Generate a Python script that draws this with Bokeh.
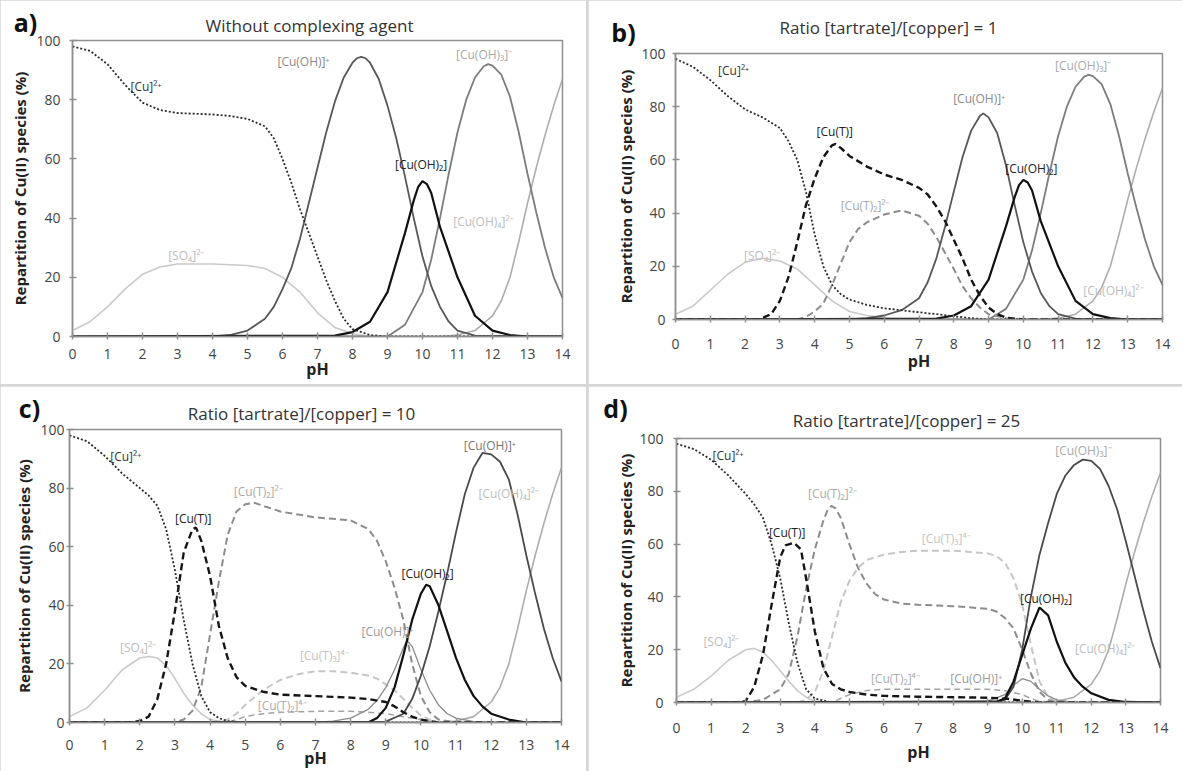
from bokeh.plotting import figure
from bokeh.models import Label, Range1d, FixedTicker
from bokeh.layouts import row, column
from bokeh.embed import file_html
from bokeh.resources import INLINE

FONT = "Open Sans"
PH_TICKS = list(range(0, 15))
PCT_TICKS = [0, 20, 40, 60, 80, 100]

TITLES = ["Without complexing agent", "Ratio [tartrate]/[copper] = 1",
          "Ratio [tartrate]/[copper] = 10", "Ratio [tartrate]/[copper] = 25"]
LETTERS = ["a)", "b)", "c)", "d)"]
X_LABEL = "pH"
Y_LABEL = "Repartition of Cu(II) species (%)"

# ---------------- panel a : without complexing agent ----------------
A_CU2_PH = [0, 0.5, 1, 1.5, 2, 2.5, 3, 4, 4.5, 5, 5.5, 5.75, 6, 6.25, 6.5, 6.75, 7, 7.25, 7.5, 7.75, 8, 8.5, 9, 14]
A_CU2 = [98, 96.5, 92, 85, 79, 76.5, 75.5, 75, 74.5, 73.5, 71, 67, 60, 52, 43, 35, 27, 19, 12, 6, 2.5, 0.5, 0, 0]
A_SO4_PH = [0, 0.5, 1, 1.5, 2, 2.5, 3, 4, 5, 5.5, 6, 6.5, 7, 7.5, 8, 8.5, 14]
A_SO4 = [2, 5, 10, 16, 21, 23.5, 24.5, 24.5, 24, 23, 20, 15, 8, 3, 1, 0, 0]
A_CUOH_PH = [0, 4, 4.5, 5, 5.5, 5.75, 6, 6.25, 6.5, 6.75, 7, 7.25, 7.5, 7.75, 8, 8.125, 8.25, 8.375, 8.5, 8.75,
             9, 9.25, 9.5, 9.75, 10, 10.25, 10.5, 10.75, 11, 11.5, 14]
A_CUOH = [0, 0, 0.5, 2, 6, 10, 16, 23, 33, 45, 57, 69, 79.5, 87.5, 92.5, 94, 94.5, 94, 92.5, 87,
          78, 67, 54, 40, 27, 17, 10, 5, 2, 0.3, 0]
# shared by panels a and b
CUOH2_PH = [0, 7.5, 8, 8.5, 9, 9.5, 9.75, 9.875, 10, 10.125, 10.25, 10.5, 11, 11.5, 12, 12.5, 13, 14]
CUOH2 = [0, 0.3, 1.5, 5, 15, 35, 46, 50.5, 52.5, 51.5, 48.5, 37, 20, 7, 2, 0.5, 0, 0]
CUOH3_PH = [0, 9, 9.5, 10, 10.25, 10.5, 10.75, 11, 11.25, 11.5, 11.75, 11.875, 12, 12.25, 12.5, 12.75, 13,
            13.25, 13.5, 13.75, 14]
CUOH3 = [0, 0, 4, 15, 26, 40, 55, 69, 80, 87.5, 91.3, 92, 91.5, 88.5, 81, 69, 55, 42, 30, 20, 13]
# shared by all panels
CUOH4_PH = [0, 10.5, 11, 11.5, 12, 12.25, 12.5, 12.75, 13, 13.25, 13.5, 13.75, 14]
CUOH4 = [0, 0, 0.5, 2, 7, 12, 20, 32, 45, 57, 68, 78, 87]

# ---------------- panel b : ratio 1 ----------------
B_CU2_PH = [0, 0.5, 1, 1.5, 2, 2.5, 3, 3.25, 3.5, 3.75, 4, 4.25, 4.5, 4.75, 5, 5.5, 6, 6.5, 7, 7.5, 8, 8.5, 9, 14]
B_CU2 = [98, 95, 90, 84, 79, 76, 72, 67, 60, 48, 32, 20, 13, 9.5, 7.5, 5.5, 4.2, 3.5, 2.7, 2, 1.2, 0.5, 0, 0]
B_SO4_PH = [0, 0.5, 1, 1.5, 2, 2.5, 3, 3.5, 4, 4.5, 5, 5.5, 6, 6.5, 14]
B_SO4 = [2, 5, 11, 17, 21.5, 23, 22, 19, 13, 7, 3, 1.5, 0.5, 0, 0]
B_CUT_PH = [0, 2.4, 2.75, 3, 3.25, 3.5, 3.75, 4, 4.25, 4.5, 4.6, 4.75, 5, 5.5, 6, 6.5, 7, 7.25, 7.5, 7.75,
            8, 8.25, 8.5, 8.75, 9, 9.25, 9.5, 10, 14]
B_CUT = [0, 0, 2, 7, 16, 29, 43, 53, 61, 65.5, 66, 64.5, 61.5, 57.5, 54.5, 52.5, 49.5, 47, 42.5, 37,
         30, 23, 15, 9, 4.5, 2, 0.7, 0, 0]
B_CUT2_PH = [0, 3.5, 3.75, 4, 4.25, 4.5, 4.75, 5, 5.25, 5.5, 6, 6.5, 7, 7.25, 7.5, 7.75, 8, 8.25, 8.5, 8.75, 9, 9.5, 10, 14]
B_CUT2 = [0, 0, 1, 3, 6, 13, 21, 29, 34, 36.5, 39.5, 41, 39, 36, 31, 25, 19, 12.5, 8, 4.5, 2, 0.5, 0, 0]
B_CUOH_PH = [0, 5, 5.5, 6, 6.5, 7, 7.25, 7.5, 7.75, 8, 8.25, 8.5, 8.75, 8.85, 9, 9.25, 9.5, 9.75, 10,
             10.25, 10.5, 10.75, 11, 11.5, 12, 14]
B_CUOH = [0, 0, 0.5, 1.5, 3.5, 8, 14, 23, 35, 48, 61, 71, 76.5, 77.5, 76, 70, 58, 43, 29,
          18, 10, 5, 2, 0.3, 0, 0]

# ---------------- panel c : ratio 10 ----------------
C_CU2_PH = [0, 0.5, 1, 1.5, 2, 2.25, 2.5, 2.75, 3, 3.25, 3.5, 3.75, 4, 4.25, 4.5, 5, 14]
C_CU2 = [98, 96, 91, 85, 80, 77.5, 74, 66, 52, 35, 20, 9, 3.5, 1.5, 0.5, 0, 0]
C_SO4_PH = [0, 0.5, 1, 1.5, 2, 2.25, 2.5, 2.75, 3, 3.25, 3.5, 3.75, 4, 4.5, 14]
C_SO4 = [2, 5, 11, 18, 22, 22.5, 22, 19.5, 15, 10, 6, 3, 1, 0, 0]
C_CUT_PH = [0, 1.75, 2, 2.25, 2.5, 2.75, 3, 3.25, 3.5, 3.6, 3.75, 4, 4.25, 4.5, 4.75, 5, 5.5, 6, 7, 8,
            8.5, 9, 9.25, 9.5, 9.75, 10, 10.5, 14]
C_CUT = [0, 0, 0.5, 2, 8, 20, 38, 58, 66, 66.5, 62, 50, 33, 22, 15.5, 12.5, 10.5, 9.5, 9, 8.5,
         8, 7, 5.5, 3.5, 2, 1, 0, 0]
C_CUT2_PH = [0, 3, 3.25, 3.5, 3.75, 4, 4.25, 4.5, 4.75, 5, 5.25, 5.5, 6, 6.5, 7, 7.5, 8, 8.5, 8.75, 9,
             9.25, 9.5, 9.75, 10, 10.25, 10.5, 11, 14]
C_CUT2 = [0, 0, 1, 4, 12, 30, 48, 64, 72, 74.5, 75, 74, 72, 71, 70, 69.5, 69, 66, 62, 55,
          46, 35, 20, 9, 3.5, 1, 0, 0]
C_CUT3_PH = [0, 4.25, 4.5, 4.75, 5, 5.5, 6, 6.5, 7, 7.5, 8, 8.5, 8.75, 9, 9.25, 9.5, 9.75, 10, 10.25, 10.5, 14]
C_CUT3 = [0, 0, 1, 3, 6, 11, 14.5, 16.5, 17.5, 17.5, 17, 16, 15, 13, 11, 8, 5, 2.5, 1, 0, 0]
C_CUT2B_PH = [0, 4.5, 4.75, 5, 5.5, 6, 7, 8, 8.5, 9, 9.5, 10, 10.5, 14]
C_CUT2B = [0, 0, 1, 2, 3, 3.5, 3.8, 3.8, 3.5, 3, 2, 1, 0, 0]
C_CUOH_PH = [0, 7, 7.5, 8, 8.5, 8.75, 9, 9.25, 9.5, 9.6, 9.75, 10, 10.25, 10.5, 10.75, 11, 11.5, 12, 14]
C_CUOH = [0, 0, 0.5, 1.5, 4.5, 7.5, 12, 18, 25.5, 28, 26, 18, 11, 6, 3, 1.5, 0.3, 0, 0]
C_CUOH2_PH = [0, 8.5, 8.75, 9, 9.25, 9.5, 9.75, 10, 10.15, 10.25, 10.5, 10.75, 11, 11.25, 11.5, 11.75, 12, 12.5, 13, 14]
C_CUOH2 = [0, 0, 1.5, 5, 12, 23, 35, 44, 47, 46.5, 40, 31, 22, 14.5, 9, 5.5, 3, 1, 0, 0]
C_CUOH3_PH = [0, 9, 9.5, 9.75, 10, 10.25, 10.5, 10.75, 11, 11.25, 11.5, 11.75, 12, 12.25, 12.5, 12.75,
              13, 13.25, 13.5, 13.75, 14]
C_CUOH3 = [0, 0.3, 3, 8, 16, 26, 38, 51, 65, 78, 87, 92, 91.5, 89, 83, 71, 57, 44, 32, 22, 14]

# ---------------- panel d : ratio 25 ----------------
D_CU2_PH = [0, 0.5, 1, 1.5, 2, 2.25, 2.5, 2.75, 3, 3.25, 3.5, 3.75, 4, 4.5, 14]
D_CU2 = [98, 96, 92, 86, 79, 75, 70, 60, 47, 30, 15, 5, 1.5, 0, 0]
D_SO4_PH = [0, 0.5, 1, 1.5, 2, 2.25, 2.5, 2.75, 3, 3.25, 3.5, 3.75, 4, 4.5, 14]
D_SO4 = [2, 5, 10, 16, 20, 20.5, 19, 16, 12, 8, 4.5, 2, 0.5, 0, 0]
D_CUT_PH = [0, 1.75, 2, 2.25, 2.5, 2.75, 3, 3.15, 3.4, 3.6, 3.75, 4, 4.25, 4.5, 4.75, 5, 5.5, 6, 7, 8,
            9, 9.5, 10, 10.5, 14]
D_CUT = [0, 0, 0.5, 6, 18, 37, 55, 59.5, 60.5, 58, 47, 27, 13, 7, 5, 4, 3, 2.5, 2.2, 2,
         1.8, 1.5, 0.7, 0, 0]
D_CUT2_PH = [0, 2, 2.5, 2.75, 3, 3.25, 3.5, 3.75, 4, 4.25, 4.375, 4.48, 4.6, 4.75, 5, 5.25, 5.5, 5.75, 6, 6.5,
             7, 8, 9, 9.25, 9.5, 9.75, 10, 10.25, 10.5, 10.75, 11, 14]
D_CUT2 = [0, 0, 1, 3, 5, 11, 25, 43, 58, 69, 73, 74.5, 73.5, 70, 60, 51, 45, 41, 39, 37.5,
          37, 36.5, 35.5, 34.5, 32, 28, 20, 11, 4, 1, 0, 0]
D_CUT3_PH = [0, 3.5, 3.75, 4, 4.25, 4.5, 4.75, 5, 5.25, 5.5, 6, 6.5, 7, 8, 9, 9.25, 9.5, 9.75, 10,
             10.25, 10.5, 10.75, 11, 14]
D_CUT3 = [0, 0, 1, 4, 12, 25, 38, 46, 51, 54, 56, 57, 57.5, 57.5, 56.5, 55.5, 53, 47, 37,
          22, 8, 2, 0, 0]
D_CUT2B_PH = [0, 4.5, 4.75, 5, 5.5, 6, 7, 8, 9, 9.5, 10, 10.25, 10.5, 11, 14]
D_CUT2B = [0, 0, 1.5, 3, 4.5, 5, 5, 5, 5, 4.5, 3, 1.5, 0.5, 0, 0]
D_CUOH_PH = [0, 8.5, 9, 9.5, 9.75, 10, 10.25, 10.5, 10.75, 11, 11.5, 14]
D_CUOH = [0, 0, 0.5, 3, 6.5, 9, 8, 5, 2.5, 1, 0, 0]
D_CUOH2_PH = [0, 9.25, 9.5, 9.75, 10, 10.25, 10.5, 10.75, 11, 11.25, 11.5, 11.75, 12, 12.5, 13, 14]
D_CUOH2 = [0, 0.3, 1.5, 8, 18, 28, 36, 33, 23, 15, 9.5, 6, 3.5, 1, 0.2, 0]
D_CUOH3_PH = [0, 9.25, 9.5, 9.75, 10, 10.25, 10.5, 10.75, 11, 11.25, 11.5, 11.75, 12, 12.25, 12.5, 12.75,
              13, 13.25, 13.5, 13.75, 14]
D_CUOH3 = [0, 0, 1, 6, 20, 40, 56, 68, 79, 86, 90, 92, 91.5, 88.5, 82, 73, 61, 48, 35, 23, 13]

# ---------------- curve labels (text, pH, %, style key) ----------------
A_LABELS = [("[Cu]²⁺", 2.1, 84.6, "cu2"), ("[Cu(OH)]⁺", 6.6, 93, "cuoh"),
            ("[Cu(OH)₃]⁻", 11.76, 95.3, "cuoh3"), ("[Cu(OH)₂]", 9.96, 58.2, "cuoh2"),
            ("[Cu(OH)₄]²⁻", 11.74, 39, "cuoh4"), ("[SO₄]²⁻", 3.25, 27.3, "so4")]
B_LABELS = [("[Cu]²⁺", 1.67, 93.5, "cu2"), ("[Cu(T)]", 4.58, 70.5, "cut"),
            ("[Cu(OH)]⁺", 8.73, 83, "cuoh"), ("[Cu(OH)₃]⁻", 11.72, 95.6, "cuoh3"),
            ("[Cu(OH)₂]", 10.23, 56.7, "cuoh2"), ("[Cu(T)₂]²⁻", 5.45, 42.9, "cut2"),
            ("[SO₄]²⁻", 2.49, 24, "so4"), ("[Cu(OH)₄]²⁻", 12.59, 10.9, "cuoh4")]
C_LABELS = [("[Cu]²⁺", 1.6, 90.7, "cu2"), ("[Cu(T)]", 3.52, 69.7, "cut"),
            ("[Cu(T)₂]²⁻", 5.37, 78.8, "cut2"), ("[Cu(OH)]⁺", 11.96, 94.7, "cuoh_dark"),
            ("[Cu(OH)₄]²⁻", 12.5, 78.2, "cuoh4"), ("[Cu(OH)₂]", 10.19, 51, "cuoh2"),
            ("[Cu(OH)]⁺", 9.05, 31.2, "cuoh_small"), ("[SO₄]²⁻", 1.95, 25.5, "so4"),
            ("[Cu(T)₃]⁴⁻", 7.25, 22.7, "cut3"), ("[Cu(T)₂]⁴⁻", 6.05, 5.7, "cut2b")]
D_LABELS = [("[Cu]²⁺", 1.49, 93.5, "cu2"), ("[Cu(T)]", 3.2, 64.5, "cut"),
            ("[Cu(T)₂]²⁻", 4.51, 79, "cut2"), ("[Cu(T)₃]⁴⁻", 7.8, 62, "cut3"),
            ("[Cu(OH)₃]⁻", 11.77, 95.3, "cuoh3"), ("[Cu(OH)₂]", 10.69, 39.3, "cuoh2"),
            ("[Cu(OH)₄]²⁻", 12.4, 20.4, "cuoh4"), ("[SO₄]²⁻", 1.3, 23, "so4"),
            ("[Cu(T)₂]⁴⁻", 6.33, 9, "cut2b"), ("[Cu(OH)]⁺", 8.67, 9, "cuoh_small")]

# ---------------- styles ----------------
LINE = {
    "cu2": ("#2b2b2b", 1.8, "2 2"),
    "so4": ("#cacaca", 1.6, "solid"),
    "cuoh": ("#575757", 1.8, "solid"),
    "cuoh_small": ("#8c8c8c", 1.3, "solid"),
    "cuoh2": ("#111111", 2.2, "solid"),
    "cuoh3": ("#7c7c7c", 1.8, "solid"),
    "cuoh3_dark": ("#4a4a4a", 1.8, "solid"),
    "cuoh4": ("#adadad", 1.6, "solid"),
    "cut": ("#151515", 2.4, "7 4"),
    "cut2": ("#8c8c8c", 2.0, "7 4"),
    "cut3": ("#c6c6c6", 2.0, "7 4"),
    "cut2b": ("#a3a3a3", 1.5, "6 4"),
}
LABEL_COLOR = {
    "cu2": "#333333", "so4": "#bdbdbd", "cuoh": "#8a8a8a", "cuoh_small": "#9a9a9a",
    "cuoh_dark": "#777777", "cuoh2": "#222222", "cuoh3": "#aaaaaa", "cuoh4": "#bdbdbd",
    "cut": "#222222", "cut2": "#aaaaaa", "cut3": "#c4c4c4", "cut2b": "#adadad",
}

PANELS = [
    dict(w=586, h=384, left=72, right=24, top=40, bottom=48, tick_std=9, xlab_std=-4, ytick_std=9, ylab_std=3,
         title_xy=(309, 25), letter_xy=(25, 21), letter_side="right",
         curves=[("so4", A_SO4_PH, A_SO4), ("cuoh4", CUOH4_PH, CUOH4), ("cuoh3", CUOH3_PH, CUOH3),
                 ("cuoh", A_CUOH_PH, A_CUOH), ("cuoh2", CUOH2_PH, CUOH2), ("cu2", A_CU2_PH, A_CU2)],
         labels=A_LABELS),
    dict(w=594, h=384, left=87, right=20, top=53, bottom=65, tick_std=16, xlab_std=-2, ytick_std=7, ylab_std=2,
         title_xy=(300, 27), letter_xy=(35, 31), letter_side="left",
         curves=[("so4", B_SO4_PH, B_SO4), ("cuoh4", CUOH4_PH, CUOH4), ("cuoh3", CUOH3_PH, CUOH3),
                 ("cut2", B_CUT2_PH, B_CUT2), ("cuoh", B_CUOH_PH, B_CUOH), ("cuoh2", CUOH2_PH, CUOH2),
                 ("cut", B_CUT_PH, B_CUT), ("cu2", B_CU2_PH, B_CU2)],
         labels=B_LABELS),
    dict(w=586, h=385, left=69, right=25, top=43, bottom=48, tick_std=14, xlab_std=-6, ytick_std=2, ylab_std=3,
         title_xy=(301, 27), letter_xy=(29, 21), letter_side="right",
         curves=[("so4", C_SO4_PH, C_SO4), ("cuoh4", CUOH4_PH, CUOH4), ("cut3", C_CUT3_PH, C_CUT3),
                 ("cut2b", C_CUT2B_PH, C_CUT2B), ("cuoh_small", C_CUOH_PH, C_CUOH),
                 ("cut2", C_CUT2_PH, C_CUT2), ("cuoh3_dark", C_CUOH3_PH, C_CUOH3),
                 ("cuoh2", C_CUOH2_PH, C_CUOH2), ("cut", C_CUT_PH, C_CUT), ("cu2", C_CU2_PH, C_CU2)],
         labels=C_LABELS),
    dict(w=594, h=385, left=88, right=22, top=52, bottom=69, tick_std=17, xlab_std=5, ytick_std=10, ylab_std=0,
         title_xy=(318, 34), letter_xy=(27, 21), letter_side="left",
         curves=[("so4", D_SO4_PH, D_SO4), ("cuoh4", CUOH4_PH, CUOH4), ("cut3", D_CUT3_PH, D_CUT3),
                 ("cut2b", D_CUT2B_PH, D_CUT2B), ("cuoh_small", D_CUOH_PH, D_CUOH),
                 ("cut2", D_CUT2_PH, D_CUT2), ("cuoh3_dark", D_CUOH3_PH, D_CUOH3),
                 ("cuoh2", D_CUOH2_PH, D_CUOH2), ("cut", D_CUT_PH, D_CUT), ("cu2", D_CU2_PH, D_CU2)],
         labels=D_LABELS),
]


def to_data(g, cx, cy):
    fw = g["w"] - g["left"] - g["right"]
    fh = g["h"] - g["top"] - g["bottom"]
    x = (cx - g["left"]) / fw * 14.0
    y = (g["h"] - g["bottom"] - cy) / fh * 100.0
    return x, y


def make_panel(i, g):
    p = figure(width=g["w"], height=g["h"], x_range=Range1d(0, 14), y_range=Range1d(0, 100),
               output_backend="svg", toolbar_location=None,
               min_border_left=g["left"], min_border_right=g["right"],
               min_border_top=g["top"], min_border_bottom=g["bottom"])
    p.xgrid.visible = False
    p.ygrid.visible = False
    p.background_fill_color = "white"
    p.border_fill_color = "white"
    p.outline_line_color = "#8f8f8f"
    p.outline_line_width = 1.5

    p.xaxis.ticker = FixedTicker(ticks=PH_TICKS)
    p.yaxis.ticker = FixedTicker(ticks=PCT_TICKS)
    for ax in (p.xaxis[0], p.yaxis[0]):
        ax.axis_line_color = "#8f8f8f"
        ax.axis_line_width = 1.5
        ax.major_tick_line_color = "#8f8f8f"
        ax.major_tick_line_width = 1.5
        ax.major_tick_in = 4
        ax.major_tick_out = 3
        ax.minor_tick_line_color = None
        ax.major_label_text_font = FONT
        ax.major_label_text_font_size = "14px"
        ax.major_label_text_color = "#444444"
        ax.axis_label_text_font = FONT
        ax.axis_label_text_font_style = "bold"
        ax.axis_label_text_color = "#222222"
    p.xaxis.axis_label = X_LABEL
    p.xaxis.axis_label_text_font_size = "16px"
    p.xaxis.major_label_standoff = g["tick_std"]
    p.xaxis.axis_label_standoff = g["xlab_std"]
    p.yaxis.axis_label = Y_LABEL
    p.yaxis.axis_label_text_font_size = "15px"
    p.yaxis.major_label_standoff = g["ytick_std"]
    p.yaxis.axis_label_standoff = g["ylab_std"]

    for key, xs, ys in g["curves"]:
        col, lw, dash = LINE[key]
        p.line(xs, ys, line_color=col, line_width=lw, line_dash=dash)

    for text, x, y, key in g["labels"]:
        p.add_layout(Label(x=x, y=y, text=text, text_align="center", text_baseline="middle",
                           text_font=FONT, text_font_size="12px", text_color=LABEL_COLOR[key]))

    # title and panel letter sit outside the frame, so they go into side panels (not clipped)
    tx, ty = to_data(g, *g["title_xy"])
    p.add_layout(Label(x=tx, y=ty, text=TITLES[i], text_align="center", text_baseline="middle",
                       text_font=FONT, text_font_size="17px", text_color="#333333"), "above")
    lx, ly = to_data(g, *g["letter_xy"])
    p.add_layout(Label(x=lx, y=ly, text=LETTERS[i], text_align="center", text_baseline="middle",
                       text_font=FONT, text_font_size="25px", text_font_style="bold",
                       text_color="#111111"), g["letter_side"])
    return p


figs = [make_panel(i, g) for i, g in enumerate(PANELS)]
# each figure in its own column so that the frames are not aligned across the row
cells = [column(f) for f in figs]
layout = column(row(cells[0], cells[1], spacing=2), row(cells[2], cells[3], spacing=2), spacing=2,
                styles={"background-color": "#d6d6d6"})

open("out.html", "w").write(file_html(layout, INLINE))
